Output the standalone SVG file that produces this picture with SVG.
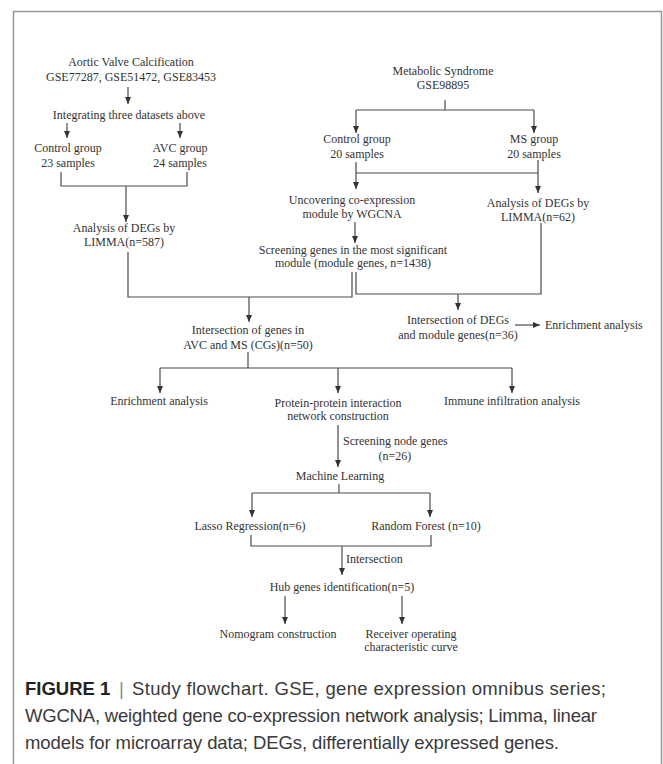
<svg xmlns="http://www.w3.org/2000/svg" width="663" height="764" viewBox="0 0 663 764">
<style>
.t{font-family:"Liberation Serif","Times New Roman",serif;font-size:12px;fill:#333;text-anchor:middle}
.s{text-anchor:start}
.c{fill:none;stroke:#4a4a4a;stroke-width:1.2}
.cap{font-family:"Liberation Sans",Arial,sans-serif;font-size:18.5px;fill:#3a3a3a}
</style>
<defs>
<marker id="ah" markerUnits="userSpaceOnUse" markerWidth="8" markerHeight="8" viewBox="0 0 8 8" refX="7" refY="4" orient="auto">
<path d="M0,1 L7,4 L0,7 Z" fill="#333"/>
</marker>
</defs>
<rect width="663" height="764" fill="#fff"/>
<g id="frame">
<path d="M13.5,764 V11.5 H661.5 V764" fill="none" stroke="#999" stroke-width="1.5"/>
</g>
<g id="connectors">
<path class="c" d="M128,87 V104" marker-end="url(#ah)"/>
<path class="c" d="M67,123 V138" marker-end="url(#ah)"/>
<path class="c" d="M180,123 V138" marker-end="url(#ah)"/>
<path class="c" d="M61,172 V186 H187 V172"/>
<path class="c" d="M126,186 V222" marker-end="url(#ah)"/>
<path class="c" d="M128,252 V297 H352 V272"/>
<path class="c" d="M249,297 V322" marker-end="url(#ah)"/>
<path class="c" d="M248,352 V368"/>
<path class="c" d="M160,368 H512"/>
<path class="c" d="M160,368 V393" marker-end="url(#ah)"/>
<path class="c" d="M338,368 V393" marker-end="url(#ah)"/>
<path class="c" d="M512,368 V393" marker-end="url(#ah)"/>
<path class="c" d="M338,425 V467" marker-end="url(#ah)"/>
<path class="c" d="M339,484 V493"/>
<path class="c" d="M252,493 H430"/>
<path class="c" d="M252,493 V517" marker-end="url(#ah)"/>
<path class="c" d="M430,493 V517" marker-end="url(#ah)"/>
<path class="c" d="M251,535 V546 H431 V535"/>
<path class="c" d="M342,546 V575" marker-end="url(#ah)"/>
<path class="c" d="M285,596 V624" marker-end="url(#ah)"/>
<path class="c" d="M402,596 V624" marker-end="url(#ah)"/>
<path class="c" d="M445,100 V110"/>
<path class="c" d="M356,110 H534"/>
<path class="c" d="M356,110 V133" marker-end="url(#ah)"/>
<path class="c" d="M534,110 V133" marker-end="url(#ah)"/>
<path class="c" d="M356,173 H538"/>
<path class="c" d="M356,162 V189" marker-end="url(#ah)"/>
<path class="c" d="M538,160 V193" marker-end="url(#ah)"/>
<path class="c" d="M355,222 V243" marker-end="url(#ah)"/>
<path class="c" d="M356,272 V294 H541 V223"/>
<path class="c" d="M458,294 V310" marker-end="url(#ah)"/>
<path class="c" d="M515,325 H540" marker-end="url(#ah)"/>
</g>
<g id="n1"><text class="t" x="131" y="66">Aortic Valve Calcification</text><text class="t" x="131" y="81">GSE77287, GSE51472, GSE83453</text></g>
<g id="n2"><text class="t" x="129" y="119">Integrating three datasets above</text></g>
<g id="n3"><text class="t" x="68" y="152">Control group</text><text class="t" x="68" y="167">23 samples</text></g>
<g id="n4"><text class="t" x="180" y="152">AVC group</text><text class="t" x="180" y="167">24 samples</text></g>
<g id="n5"><text class="t" x="124" y="232">Analysis of DEGs by</text><text class="t" x="124" y="246">LIMMA(n=587)</text></g>
<g id="n6"><text class="t" x="443" y="75">Metabolic Syndrome</text><text class="t" x="443" y="89">GSE98895</text></g>
<g id="n7"><text class="t" x="357" y="143">Control group</text><text class="t" x="357" y="158">20 samples</text></g>
<g id="n8"><text class="t" x="534" y="143">MS group</text><text class="t" x="534" y="158">20 samples</text></g>
<g id="n9"><text class="t" x="352" y="204">Uncovering co-expression</text><text class="t" x="352" y="218">module by WGCNA</text></g>
<g id="n10"><text class="t" x="538" y="207">Analysis of DEGs by</text><text class="t" x="538" y="221">LIMMA(n=62)</text></g>
<g id="n11"><text class="t" x="353" y="254">Screening genes in the most significant</text><text class="t" x="353" y="267">module (module genes, n=1438)</text></g>
<g id="n12"><text class="t" x="248" y="334">Intersection of genes in</text><text class="t" x="248" y="349">AVC and MS (CGs)(n=50)</text></g>
<g id="n13"><text class="t" x="458" y="324">Intersection of DEGs</text><text class="t" x="458" y="339">and module genes(n=36)</text></g>
<g id="n14"><text class="t s" x="545" y="329">Enrichment analysis</text></g>
<g id="n15"><text class="t" x="159" y="405">Enrichment analysis</text></g>
<g id="n16"><text class="t" x="338" y="407">Protein-protein interaction</text><text class="t" x="338" y="420">network construction</text></g>
<g id="n17"><text class="t" x="512" y="405">Immune infiltration analysis</text></g>
<g id="lab1"><text class="t s" x="343" y="445">Screening node genes</text><text class="t" x="395" y="460">(n=26)</text></g>
<g id="n18"><text class="t" x="340" y="480">Machine Learning</text></g>
<g id="n19"><text class="t" x="250" y="530">Lasso Regression(n=6)</text></g>
<g id="n20"><text class="t" x="426" y="530">Random Forest (n=10)</text></g>
<g id="lab2"><text class="t s" x="346" y="563">Intersection</text></g>
<g id="n21"><text class="t" x="342" y="591">Hub genes identification(n=5)</text></g>
<g id="n22"><text class="t" x="278" y="638">Nomogram construction</text></g>
<g id="n23"><text class="t" x="411" y="638">Receiver operating</text><text class="t" x="411" y="651">characteristic curve</text></g>
<g id="caption">
<text class="cap" y="695"><tspan x="25" font-weight="bold" fill="#222">FIGURE 1</tspan><tspan x="119" fill="#888">|</tspan><tspan x="132" textLength="474" lengthAdjust="spacing">Study flowchart. GSE, gene expression omnibus series;</tspan></text>
<text class="cap" x="25" y="722" textLength="572" lengthAdjust="spacing">WGCNA, weighted gene co-expression network analysis; Limma, linear</text>
<text class="cap" x="25" y="749" textLength="534" lengthAdjust="spacing">models for microarray data; DEGs, differentially expressed genes.</text>
</g>
</svg>
